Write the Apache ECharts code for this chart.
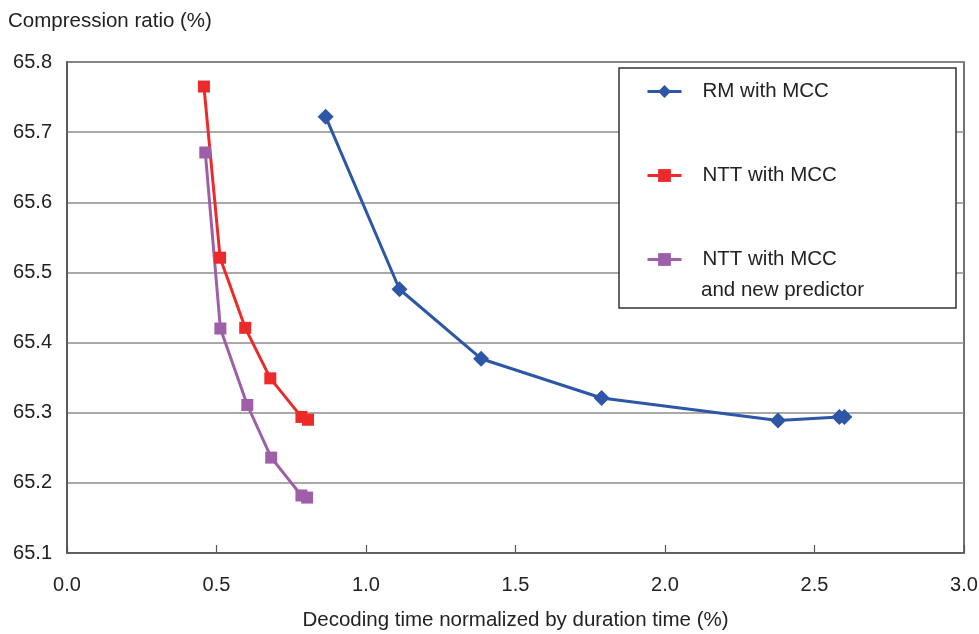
<!DOCTYPE html>
<html>
<head>
<meta charset="utf-8">
<script src="https://cdn.jsdelivr.net/npm/echarts@6/dist/echarts.min.js"></script>
<style>
  html, body { margin: 0; padding: 0; background: #fff; }
  #chart { width: 979px; height: 634px; }
</style>
</head>
<body>
<div id="chart"></div>
<script>
// decoding time (%) and compression ratio (%) for each method
const rmTime = [0.865, 1.112, 1.385, 1.788, 2.378, 2.583, 2.600];
const rmRatio = [65.722, 65.476, 65.377, 65.321, 65.289, 65.294, 65.294];

const nttTime = [0.458, 0.512, 0.596, 0.680, 0.784, 0.806];
const nttRatio = [65.765, 65.521, 65.421, 65.349, 65.294, 65.290];

const npTime = [0.4625, 0.513, 0.603, 0.683, 0.784, 0.803];
const npRatio = [65.671, 65.420, 65.311, 65.236, 65.182, 65.179];

const seriesNames = ['RM with MCC', 'NTT with MCC', 'NTT with MCC\nand new predictor'];

function pairs(xs, ys) {
    return xs.map(function (x, i) { return [x, ys[i]]; });
}

const font = '"Liberation Sans", Arial, Helvetica, sans-serif';
const textColor = '#222';

let option = {
    backgroundColor: '#fff',
    animation: false,
    textStyle: { fontFamily: font },
    grid: {
        left: 67,
        right: 15,
        top: 62,
        bottom: 81,
        outerBoundsMode: 'none',
        show: true,
        borderColor: '#444',
        borderWidth: 1.5
    },
    legend: {
        orient: 'vertical',
        left: 646,
        top: 80,
        padding: 0,
        itemGap: 61,
        itemWidth: 34,
        itemHeight: 16,
        z: 10,
        data: seriesNames,
        lineStyle: { width: 3 },
        formatter: function (name) {
            return name.split('\n')[0];
        },
        textStyle: {
            fontSize: 20.5,
            lineHeight: 23,
            color: textColor,
            fontFamily: font,
            padding: [0, 0, 0, 16]
        }
    },
    xAxis: {
        type: 'value',
        min: 0,
        max: 3,
        interval: 0.5,
        name: 'Decoding time normalized by duration time (%)',
        nameLocation: 'middle',
        nameGap: 57,
        nameTextStyle: { fontSize: 20.5, color: textColor, fontFamily: font },
        axisLine: { lineStyle: { color: '#555', width: 1.5 } },
        axisTick: { inside: true, length: 8, lineStyle: { color: '#555', width: 1.2 } },
        splitLine: { show: false },
        axisLabel: {
            fontSize: 20,
            color: textColor,
            margin: 22,
            formatter: function (v) { return v.toFixed(1); }
        }
    },
    yAxis: {
        type: 'value',
        min: 65.1,
        max: 65.8,
        interval: 0.1,
        name: 'Compression ratio (%)',
        nameLocation: 'end',
        nameGap: 30,
        nameTextStyle: {
            fontSize: 20.5,
            color: textColor,
            fontFamily: font,
            align: 'left',
            padding: [0, 0, 0, -59]
        },
        axisLine: { show: true, lineStyle: { color: '#555', width: 1.5 } },
        axisTick: { show: false },
        splitLine: { lineStyle: { color: '#8c8c8c', width: 1.5 } },
        axisLabel: {
            fontSize: 20,
            color: textColor,
            margin: 15,
            formatter: function (v) { return v.toFixed(1); }
        }
    },
    graphic: [
        {
            type: 'rect',
            z: 5,
            shape: { x: 619, y: 68, width: 337, height: 240 },
            style: { fill: '#fff', stroke: '#333', lineWidth: 1.5 }
        },
        {
            type: 'text',
            z: 11,
            left: 701,
            top: 280,
            style: {
                text: seriesNames[2].split('\n')[1],
                fontSize: 20.5,
                fontFamily: font,
                fill: textColor
            }
        }
    ],
    series: [
        {
            name: seriesNames[0],
            type: 'line',
            symbol: 'diamond',
            symbolSize: 16,
            color: '#2d56a6',
            lineStyle: { width: 3 },
            data: pairs(rmTime, rmRatio)
        },
        {
            name: seriesNames[1],
            type: 'line',
            symbol: 'rect',
            symbolSize: 12,
            color: '#ec2a2a',
            lineStyle: { width: 3 },
            data: pairs(nttTime, nttRatio)
        },
        {
            name: seriesNames[2],
            type: 'line',
            symbol: 'rect',
            symbolSize: 12,
            color: '#9e5fa8',
            lineStyle: { width: 3 },
            data: pairs(npTime, npRatio)
        }
    ]
};

let myChart = echarts.init(document.getElementById('chart'));
myChart.setOption(option);
</script>
</body>
</html>
